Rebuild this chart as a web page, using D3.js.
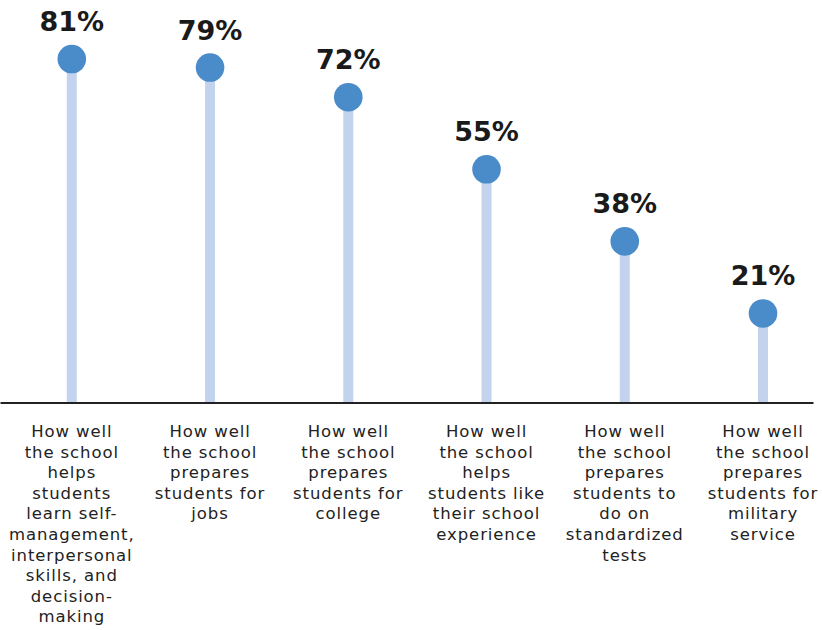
<!DOCTYPE html>
<html>
<head>
<meta charset="utf-8">
<script src="https://cdn.jsdelivr.net/npm/d3@7/dist/d3.min.js"></script>
<style>
  html, body { margin: 0; padding: 0; background: #fff; }
  svg { display: block; }
</style>
</head>
<body>
<svg id="chart" width="822" height="630"></svg>
<script>
// Share of respondents rating each aspect of the school highly
const categories = [
  "How well\nthe school\nhelps\nstudents\nlearn self-\nmanagement,\ninterpersonal\nskills, and\ndecision-\nmaking",
  "How well\nthe school\nprepares\nstudents for\njobs",
  "How well\nthe school\nprepares\nstudents for\ncollege",
  "How well\nthe school\nhelps\nstudents like\ntheir school\nexperience",
  "How well\nthe school\nprepares\nstudents to\ndo on\nstandardized\ntests",
  "How well\nthe school\nprepares\nstudents for\nmilitary\nservice"
];
const values = [81, 79, 72, 55, 38, 21];
const valueLabels = ["81%", "79%", "72%", "55%", "38%", "21%"];

const svg = d3.select("#chart");
const baseY = 402.5;

const x = d3.scalePoint()
  .domain(d3.range(categories.length))
  .range([71.8, 763])
  .padding(0);

const y = d3.scaleLinear()
  .domain([0, 100])
  .range([baseY, baseY - 424]);

// Stems
svg.append("g").selectAll("line")
  .data(values)
  .join("line")
  .attr("x1", (d, i) => x(i))
  .attr("x2", (d, i) => x(i))
  .attr("y1", y(0))
  .attr("y2", d => y(d))
  .attr("stroke", "#c3d3ee")
  .attr("stroke-width", 10);

// Baseline axis
const axis = d3.axisBottom(d3.scaleLinear().domain([0, 1]).range([0, 813]))
  .ticks(0).tickSize(0).tickFormat("");
svg.append("g")
  .attr("transform", `translate(0,${baseY})`)
  .call(axis)
  .call(g => g.select(".domain").attr("stroke", "#222").attr("stroke-width", 2));

// Dots
svg.append("g").selectAll("circle")
  .data(values)
  .join("circle")
  .attr("cx", (d, i) => x(i))
  .attr("cy", d => y(d))
  .attr("r", 14.3)
  .attr("fill", "#4a8bc9");

// Value labels
svg.append("g").selectAll("text")
  .data(values)
  .join("text")
  .attr("x", (d, i) => x(i))
  .attr("y", d => y(d) - 28)
  .attr("text-anchor", "middle")
  .attr("font-family", "'DejaVu Sans', sans-serif")
  .attr("font-weight", "bold")
  .attr("font-size", 27)
  .attr("fill", "#1a1a1a")
  .text((d, i) => valueLabels[i]);

// Category labels
const cat = svg.append("g").selectAll("text")
  .data(categories)
  .join("text")
  .attr("x", (d, i) => x(i))
  .attr("y", 437)
  .attr("text-anchor", "middle")
  .attr("font-family", "'DejaVu Sans', sans-serif")
  .attr("font-size", 16.5)
  .attr("letter-spacing", 0.9)
  .attr("fill", "#222");

cat.each(function(d, i) {
  const lines = d.split("\n");
  d3.select(this).selectAll("tspan")
    .data(lines)
    .join("tspan")
    .attr("x", x(i))
    .attr("dy", (l, j) => j === 0 ? 0 : 20.6)
    .text(l => l);
});
</script>
</body>
</html>
